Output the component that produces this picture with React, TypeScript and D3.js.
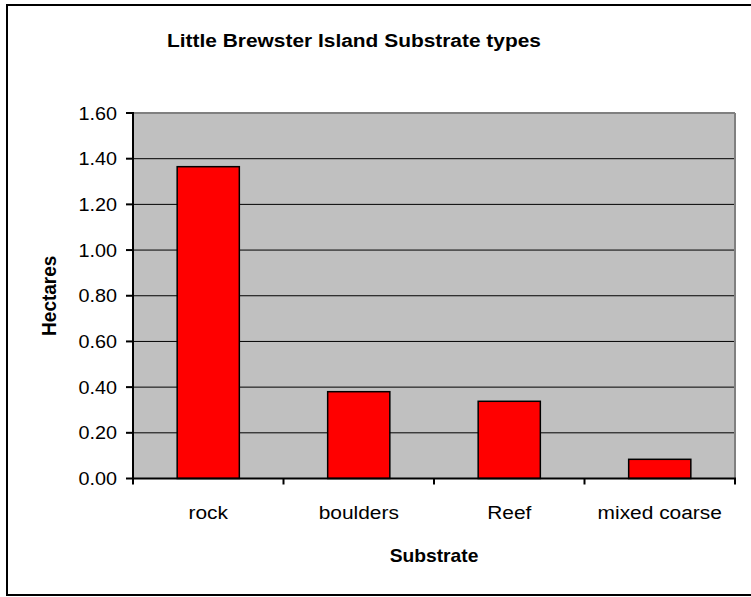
import React from "react";
import * as d3 from "d3";

const categories = ["rock", "boulders", "Reef", "mixed coarse"];
const values = [1.365, 0.38, 0.338, 0.084];
const yTicks = [0, 0.2, 0.4, 0.6, 0.8, 1.0, 1.2, 1.4, 1.6];
const title = "Little Brewster Island Substrate types";
const xTitle = "Substrate";
const yTitle = "Hectares";

export default function App() {
  const W = 751, H = 597;
  const left = 133, right = 735, top = 113, bottom = 478.5;
  const x = d3.scaleBand<string>().domain(categories).range([left, right]).paddingInner(0.587).paddingOuter(0.2935);
  const y = d3.scaleLinear().domain([0, 1.6]).range([bottom, top]);
  const step = x.step();
  const font = "'Liberation Sans', Arial, sans-serif";
  const sx = 1.1;
  const boundaries = d3.range(categories.length + 1).map((i) => left + i * step);
  return (
    <svg width={W} height={H} style={{ position: "absolute", left: 0, top: 0 }} fontFamily={font}>
      <rect x={0} y={0} width={W} height={H} fill="#fff" />
      <rect x={7} y={5} width={752} height={590} fill="none" stroke="#000" strokeWidth={2} />
      <rect x={left} y={top} width={right - left} height={bottom - top} fill="#c0c0c0" />
      {yTicks.slice(1, -1).map((t) => (
        <line key={t} x1={left} x2={right} y1={y(t)} y2={y(t)} stroke="#000" strokeWidth={1} />
      ))}
      <line x1={left} x2={right} y1={top} y2={top} stroke="#808080" strokeWidth={2} />
      <line x1={right} x2={right} y1={top} y2={bottom} stroke="#808080" strokeWidth={2} />
      {categories.map((c, i) => (
        <rect key={c} x={x(c)} y={y(values[i])} width={x.bandwidth()} height={bottom - y(values[i])}
          fill="#ff0000" stroke="#000" strokeWidth={1.5} />
      ))}
      <line x1={left} x2={left} y1={top - 1} y2={bottom + 1} stroke="#000" strokeWidth={2} />
      <line x1={left - 1} x2={right + 1} y1={bottom} y2={bottom} stroke="#000" strokeWidth={2} />
      {yTicks.map((t) => (
        <g key={t}>
          <line x1={left - 7} x2={left} y1={y(t)} y2={y(t)} stroke="#000" strokeWidth={2} />
          <text transform={`translate(117,${y(t) + 6.5}) scale(${sx},1)`} textAnchor="end" fontSize={18}>{t.toFixed(2)}</text>
        </g>
      ))}
      {boundaries.map((b, i) => (
        <line key={i} x1={b} x2={b} y1={bottom} y2={bottom + 6} stroke="#000" strokeWidth={2} />
      ))}
      {categories.map((c) => (
        <text key={c} transform={`translate(${x(c)! + x.bandwidth() / 2},519) scale(${sx},1)`} textAnchor="middle" fontSize={19}>{c}</text>
      ))}
      <text transform={`translate(${(left + right) / 2},562) scale(${sx},1)`} textAnchor="middle" fontSize={17.5} fontWeight="bold">{xTitle}</text>
      <text transform={`translate(55.5,${(top + bottom) / 2}) scale(${sx},1) rotate(-90)`} textAnchor="middle" fontSize={19} fontWeight="bold">{yTitle}</text>
      <text transform={`translate(354,47) scale(${sx},1)`} textAnchor="middle" fontSize={19} fontWeight="bold">{title}</text>
    </svg>
  );
}
